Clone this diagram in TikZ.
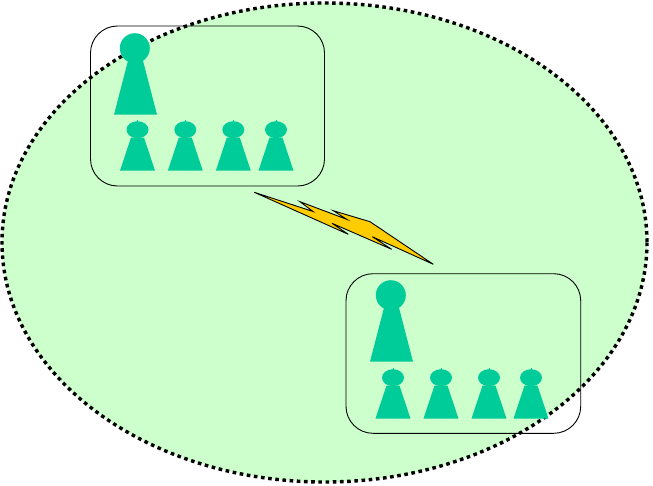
\documentclass[tikz,border=0pt]{standalone}
\definecolor{ellgreen}{RGB}{204,255,204}
\definecolor{pawngreen}{RGB}{0,204,153}
\definecolor{boltyellow}{RGB}{255,204,0}
\tikzset{
  cellring/.style={draw=black,line width=3.4pt,dash pattern=on 3.6pt off 3.6pt,fill=ellgreen},
  groupbox/.style={draw=black,line width=0.9pt,rounded corners=27pt},
  pawn/.style={fill=pawngreen,draw=none}
}
% big pawn: x, y of the foot, centre of the head
\newcommand{\bigpawn}[2]{
  \fill[pawn] (#1-21.5,#2) -- (#1-7.5,#2-54) -- (#1+7.5,#2-54) -- (#1+21.5,#2) -- cycle;
  \fill[pawn] (#1-0.7,#2-66.5) circle (15);
}
% small pawn
\newcommand{\smallpawn}[2]{
  \fill[pawn] (#1-17.5,#2) -- (#1-6.5,#2-33) -- (#1+6.5,#2-33) -- (#1+17.5,#2) -- cycle;
  \fill[pawn] (#1,#2-41) ellipse (11 and 8.5);
  \draw[pawngreen,line width=0.8pt] (#1,#2-51) -- (#1,#2-47);
}
\begin{document}
\begin{tikzpicture}[x=1pt,y=-1pt]
  \useasboundingbox (0,0) rectangle (653,485);
  \draw[cellring] (324.5,242.5) ellipse (322.5 and 239.5);

  \draw[groupbox] (90.5,26) rectangle (324.5,186);
  \draw[groupbox] (346,273.7) rectangle (580.7,433.3);

  \bigpawn{135.5}{114.7}
  \foreach \px in {137.5,185.3,233.3,276}
    \smallpawn{\px}{170.7};

  \bigpawn{391.5}{361.7}
  \foreach \px in {393,441,489,531}
    \smallpawn{\px}{418.7};

  \draw[fill=boltyellow,line width=0.9pt] (254.3,192.3) -- (313,211.5) -- (300,201.7) -- (346.7,219.3)
    -- (333.3,210.7) -- (370,221.7) -- (433.3,264.3) -- (372.3,236.7) -- (391.7,249.3)
    -- (332,223.3) -- (348.3,234.3) -- cycle;
\end{tikzpicture}
\end{document}
